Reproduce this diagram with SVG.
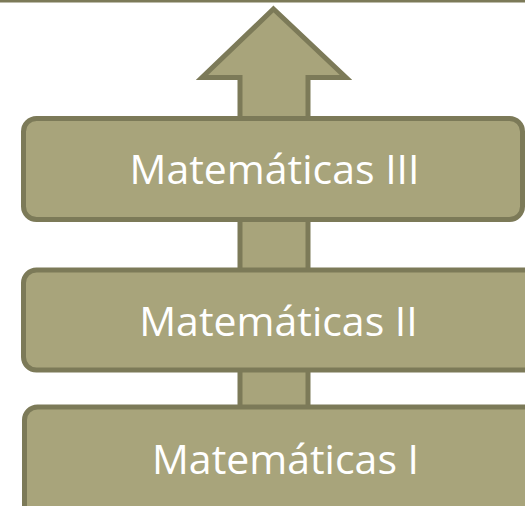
<svg xmlns="http://www.w3.org/2000/svg" width="525" height="506" viewBox="0 0 525 506">
<style>
.box{fill:#a8a47b;stroke:#7c7a58;stroke-width:5}
.lbl{font-family:"Open Sans","Liberation Sans",Arial,sans-serif;font-size:41px;fill:#ffffff;text-anchor:middle}
</style>
<rect x="0" y="0" width="525" height="2.5" fill="#7c7a58"/>
<g id="connectors">
<path class="box" d="M273.5,9 L346,77.5 L308,77.5 L308,410 L240,410 L240,77.5 L202,77.5 Z" stroke-linejoin="miter"/>
</g>
<g id="node-mat1">
<rect class="box" x="24.5" y="407" width="540" height="130" rx="13"/>
<text class="lbl" x="285.5" y="474">Matemáticas I</text>
</g>
<g id="node-mat2">
<rect class="box" x="23.5" y="270" width="540" height="100" rx="13"/>
<text class="lbl" x="278.5" y="336">Matemáticas II</text>
</g>
<g id="node-mat3">
<rect class="box" x="23.5" y="118.5" width="499" height="101" rx="13"/>
<text class="lbl" x="274.5" y="184">Matemáticas III</text>
</g>
</svg>
